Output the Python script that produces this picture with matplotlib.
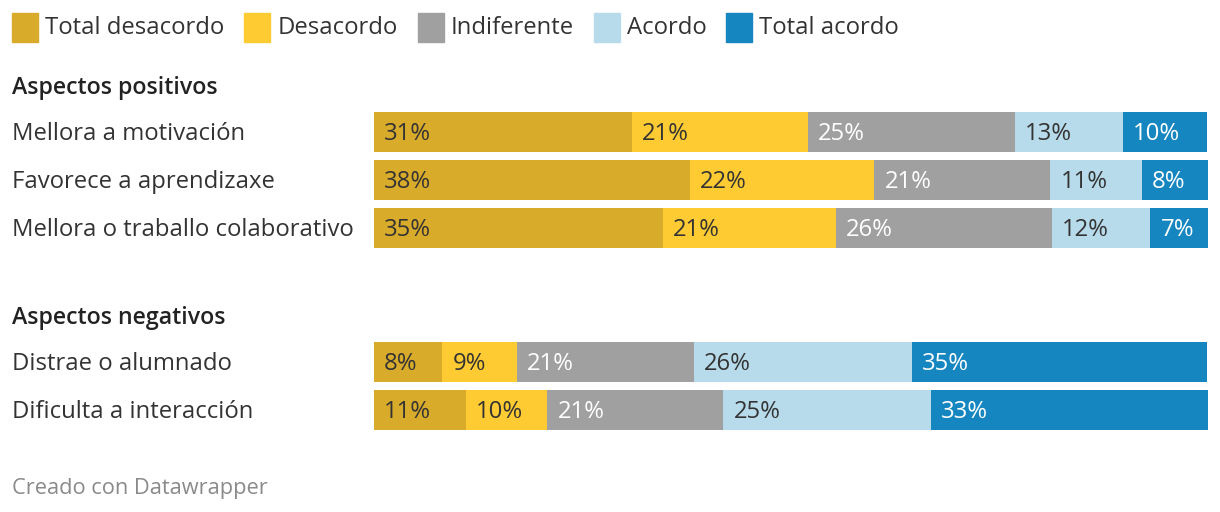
import numpy as np
import matplotlib.pyplot as plt
from matplotlib.patches import Rectangle

plt.rcParams['font.family'] = ['Open Sans', 'DejaVu Sans']

categories = ["Total desacordo", "Desacordo", "Indiferente", "Acordo", "Total acordo"]
colors = ["#d8ab2b", "#fecb32", "#a0a0a0", "#b7dbea", "#1686c1"]
text_colors = ["#333333", "#333333", "#ffffff", "#333333", "#ffffff"]

groups = ["Aspectos positivos", "Aspectos negativos"]
pos_items = ["Mellora a motivación", "Favorece a aprendizaxe", "Mellora o traballo colaborativo"]
neg_items = ["Distrae o alumnado", "Dificulta a interacción"]

# shares per row (%), columns follow `categories`
pos_values = np.array([
    [30.9, 21.1, 24.9, 12.9, 10.1],
    [37.9, 22.1, 21.1, 11.0, 7.9],
    [34.6, 20.8, 25.9, 11.8, 6.9],
])
neg_values = np.array([
    [8.2, 8.9, 21.3, 26.1, 35.4],
    [11.0, 9.8, 21.1, 24.9, 33.2],
])

W, H = 1220, 512
fig = plt.figure(figsize=(W / 100, H / 100), dpi=100)
ax = fig.add_axes([374 / W, 0, 834 / W, 1])
ax.set_xlim(0, 100)
ax.set_ylim(H, 0)  # y in pixel rows
ax.axis('off')

def fx(px):
    return px / W

def fy(py):
    return 1 - py / H

# layout in pixels
row_step = 48
bar_h = 40
blocks = [(groups[0], pos_items, pos_values, 86, 132),
          (groups[1], neg_items, neg_values, 316, 362)]

fs = 17.2
dy = 1.5  # small downward nudge for text
for title, items, vals, title_y, first_y in blocks:
    fig.text(fx(12), fy(title_y + dy), title, fontsize=16.7, fontweight='semibold',
             color='#222222', va='center', ha='left')
    for i, (name, row) in enumerate(zip(items, vals)):
        y = first_y + i * row_step
        fig.text(fx(12), fy(y + dy), name, fontsize=fs, color='#333333', va='center', ha='left')
        left = 0
        for v, c, tc in zip(row, colors, text_colors):
            ax.barh(y, v, left=left, height=bar_h, color=c, edgecolor='none')
            ax.annotate(f"{round(v):.0f}%", (left, y), xytext=(7.2, -dy * 0.72),
                        textcoords='offset points', va='center', ha='left',
                        fontsize=fs, color=tc)
            left += v

# legend across the top
fig.canvas.draw()
renderer = fig.canvas.get_renderer()
x = 12
for cat, c in zip(categories, colors):
    fig.patches.append(Rectangle((fx(x), fy(42)), 26 / W, 29 / H, color=c,
                                 transform=fig.transFigure, figure=fig))
    t = fig.text(fx(x + 33), fy(26 + dy), cat, fontsize=fs, color='#333333',
                 va='center', ha='left')
    bb = t.get_window_extent(renderer)
    x = bb.x1 + 20

fig.text(fx(12), fy(487 + dy), "Creado con Datawrapper", fontsize=15.7, color='#8a8a8a',
         va='center', ha='left')

fig.savefig('out.png', dpi=100, facecolor='white')
